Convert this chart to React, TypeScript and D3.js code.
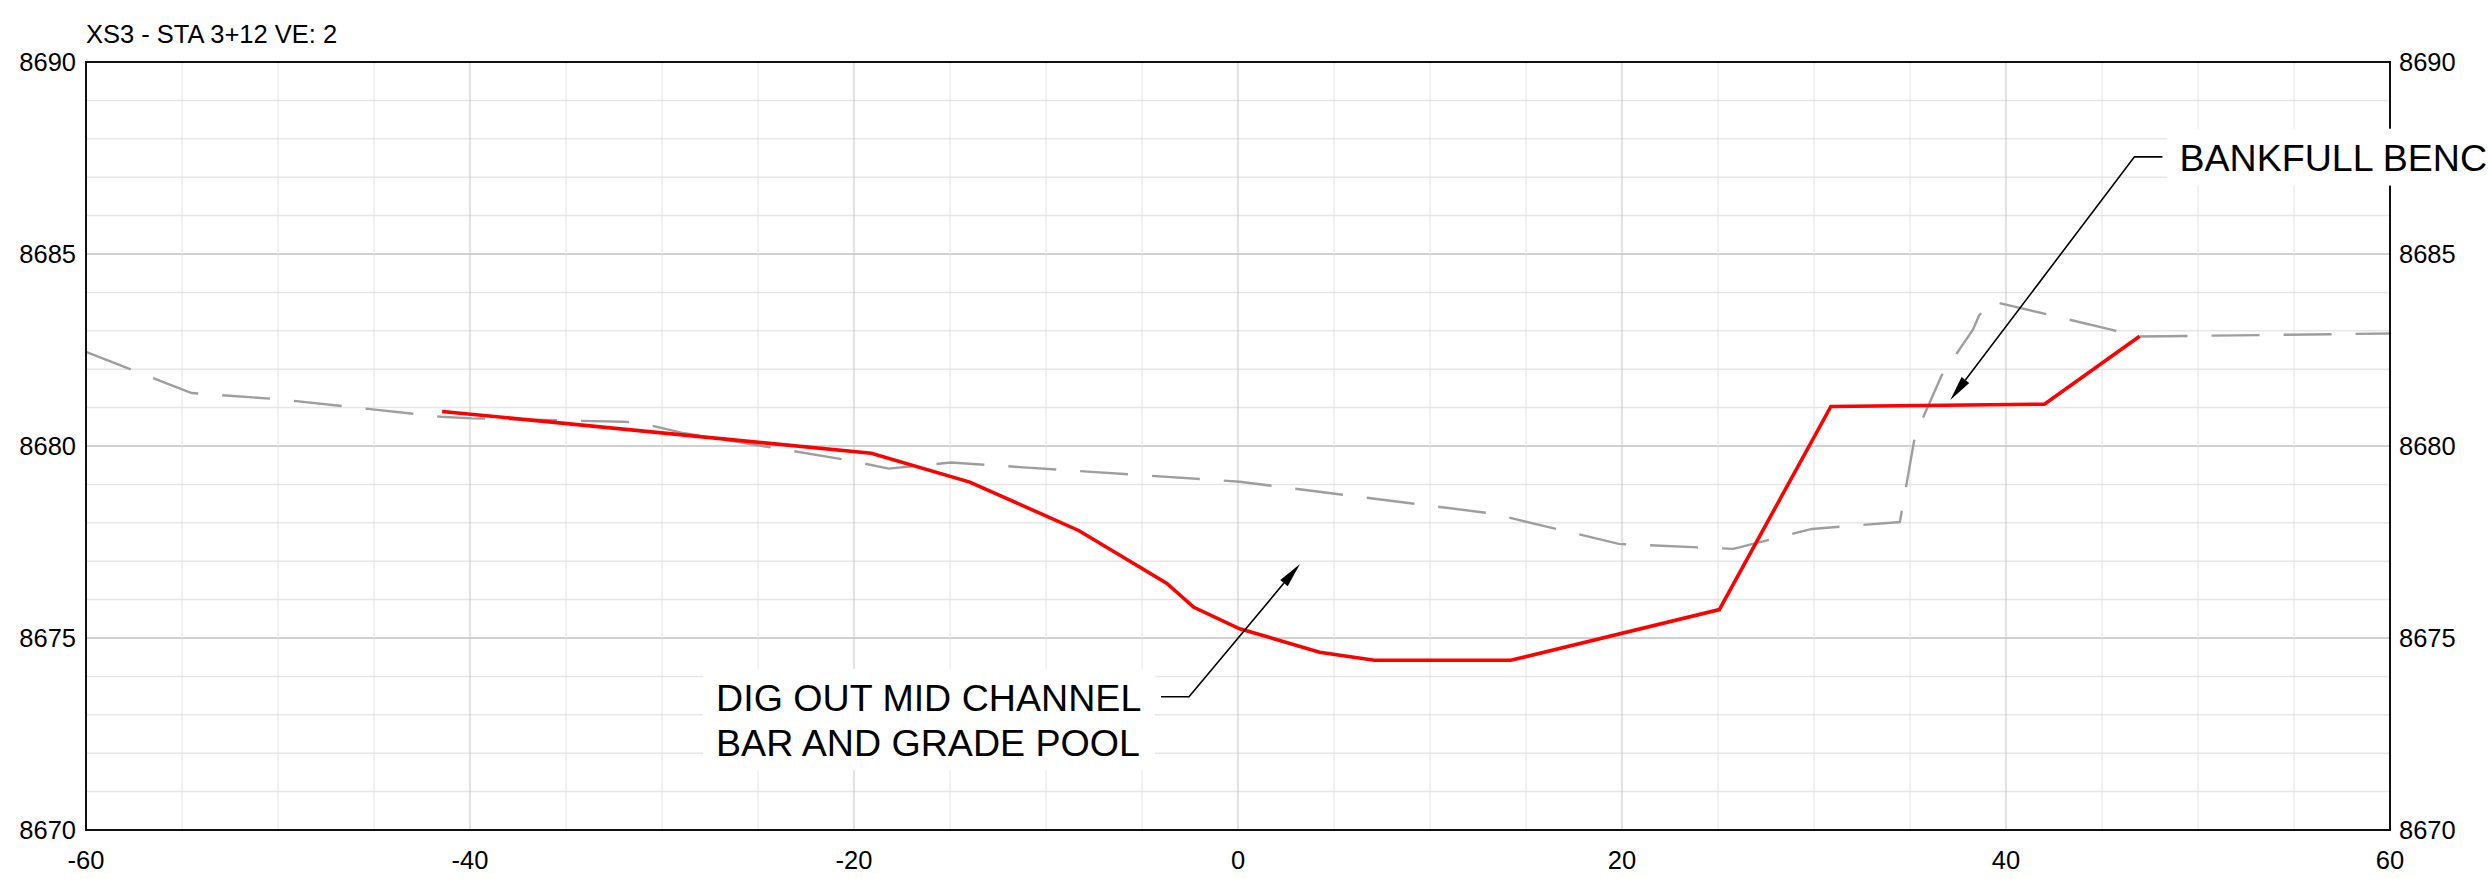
import React from "react";
import * as d3 from "d3";

// ---- data ----
const titleText = "XS3 - STA 3+12 VE: 2";

const existingX = [-60, -54.5, -50.0, -41.5, -39.9, -32.0, -31.2, -29.0, -20.3, -18.2, -14.95, 0.1, 13.25, 19.83, 25.8, 29.89, 34.47, 35.26, 36.64, 38.27, 38.6, 39.27, 45.47, 46.9, 60];
const existingY = [8682.45, 8681.38, 8681.22, 8680.76, 8680.72, 8680.63, 8680.61, 8680.35, 8679.63, 8679.41, 8679.57, 8679.07, 8678.24, 8677.45, 8677.32, 8677.84, 8678.02, 8680.26, 8681.83, 8683.02, 8683.4, 8683.77, 8683.03, 8682.85, 8682.93];

const proposedX = [-41.45, -19.1, -13.97, -8.3, -3.72, -2.3, 0.09, 4.25, 7.1, 14.2, 25.07, 30.88, 42.0, 46.96];
const proposedY = [8680.9, 8679.81, 8679.06, 8677.8, 8676.43, 8675.8, 8675.24, 8674.63, 8674.42, 8674.42, 8675.74, 8681.03, 8681.09, 8682.86];

const xTicks = [-60, -40, -20, 0, 20, 40, 60];
const yTicks = [8670, 8675, 8680, 8685, 8690];
const xGridStep = 5;
const yGridStep = 1;

const annotationLines = [["DIG OUT MID CHANNEL", "BAR AND GRADE POOL"], ["BANKFULL BENC"]];
const annotationTipX = [3.23, 37.1];
const annotationTipY = [8676.93, 8681.2];
const annotationElbowX = [-2.55, 46.69];
const annotationElbowY = [8673.47, 8687.53];
const annotationSide = ["left", "right"];

// ---- layout ----
const W = 2488;
const H = 879;
const PL = 86, PR = 2390, PT = 62, PB = 830;
const FONT = "'Liberation Sans', Arial, Helvetica, sans-serif";
const TICK_FS = 25.5;
const ANN_FS = 37.6;

function measure(text: string, size: number): number {
  try {
    const c = document.createElement("canvas");
    const ctx = c.getContext("2d");
    if (ctx) {
      ctx.font = `${size}px 'Liberation Sans', Arial, sans-serif`;
      return ctx.measureText(text).width;
    }
  } catch (e) {}
  return text.length * size * 0.6;
}

export default function App() {
  const x = d3.scaleLinear().domain([-60, 60]).range([PL, PR]);
  const y = d3.scaleLinear().domain([8670, 8690]).range([PB, PT]);

  const line = d3
    .line<[number, number]>()
    .x((d) => x(d[0]))
    .y((d) => y(d[1]));

  const existing: [number, number][] = existingX.map((v, i) => [v, existingY[i]]);
  const proposed: [number, number][] = proposedX.map((v, i) => [v, proposedY[i]]);

  const vGrid = d3.range(-60 + xGridStep, 60, xGridStep);
  const hGrid = d3.range(8670 + yGridStep, 8690, yGridStep);

  const capH = ANN_FS * 0.716;
  const lineGap = 44.7;

  return (
    <div style={{ position: "absolute", left: 0, top: 0 }}>
      <svg width={W} height={H} style={{ display: "block", background: "#fff" }} fontFamily={FONT}>
        <rect x={0} y={0} width={W} height={H} fill="#fff" />
        {/* grid */}
        {hGrid.map((v) => {
          const major = v % 5 === 0;
          return (
            <line key={"h" + v} x1={PL} x2={PR} y1={y(v)} y2={y(v)}
              stroke={major ? "#c2c2c2" : "#e6e6e6"} strokeWidth={1.5} />
          );
        })}
        {vGrid.map((v) => {
          const major = v % 20 === 0;
          return (
            <line key={"v" + v} x1={x(v)} x2={x(v)} y1={PT} y2={PB}
              stroke={major ? "#c6c6c6" : "#e2e2e2"} strokeWidth={1} />
          );
        })}
        {/* existing ground */}
        <path d={line(existing) || ""} fill="none" stroke="#9e9e9e" strokeWidth={2.4}
          strokeDasharray="48 24" />
        {/* proposed grade */}
        <path d={line(proposed) || ""} fill="none" stroke="#ff0000" strokeWidth={3.6}
          strokeLinejoin="miter" />
        {/* frame */}
        <rect x={PL} y={PT} width={PR - PL} height={PB - PT} fill="none" stroke="#111" strokeWidth={2} />
        {/* title */}
        <text x={PL} y={43} fontSize={TICK_FS} fill="#000">{titleText}</text>
        {/* y ticks */}
        {yTicks.map((v) => (
          <g key={"yt" + v}>
            <text x={PL - 10} y={y(v)} dy="0.36em" textAnchor="end" fontSize={TICK_FS} fill="#000">{v}</text>
            <text x={PR + 9} y={y(v)} dy="0.36em" textAnchor="start" fontSize={TICK_FS} fill="#000">{v}</text>
          </g>
        ))}
        {/* x ticks */}
        {xTicks.map((v) => (
          <text key={"xt" + v} x={x(v)} y={869} textAnchor="middle" fontSize={TICK_FS} fill="#000">{v}</text>
        ))}
        {/* annotations */}
        {annotationLines.map((lines, i) => {
          const tx = x(annotationTipX[i]);
          const ty = y(annotationTipY[i]);
          const ex = x(annotationElbowX[i]);
          const ey = y(annotationElbowY[i]);
          const left = annotationSide[i] === "left";
          const dir = left ? -1 : 1;
          const legEnd = ex + dir * 28;
          const widths = lines.map((t) => measure(t, ANN_FS));
          const tw = Math.max(...widths);
          const firstBase = ey + capH / 2 + 0.8;
          const lastBase = firstBase + (lines.length - 1) * lineGap;
          const boxTop = firstBase - capH - 15.5;
          const boxBot = lastBase + 14.5;
          const boxX = left ? ex - 34 - (tw + 26) : ex + 33;
          const textX = left ? ex - 47 - tw : ex + 45;
          // arrowhead
          const ang = Math.atan2(ty - ey, tx - ex);
          const len = 25, hw = 4.8;
          const bx = tx - len * Math.cos(ang);
          const by = ty - len * Math.sin(ang);
          const px = -Math.sin(ang) * hw;
          const py = Math.cos(ang) * hw;
          return (
            <g key={"ann" + i}>
              <rect x={boxX} y={boxTop} width={tw + 26} height={boxBot - boxTop} fill="#fff" />
              {lines.map((t, j) => (
                <text key={j} x={textX} y={firstBase + j * lineGap} fontSize={ANN_FS}
                  textAnchor="start" fill="#000">{t}</text>
              ))}
              <polyline points={`${legEnd},${ey} ${ex},${ey} ${bx},${by}`} fill="none" stroke="#000" strokeWidth={1.6} />
              <polygon points={`${tx},${ty} ${bx + px},${by + py} ${bx - px},${by - py}`} fill="#000" />
            </g>
          );
        })}
      </svg>
    </div>
  );
}
